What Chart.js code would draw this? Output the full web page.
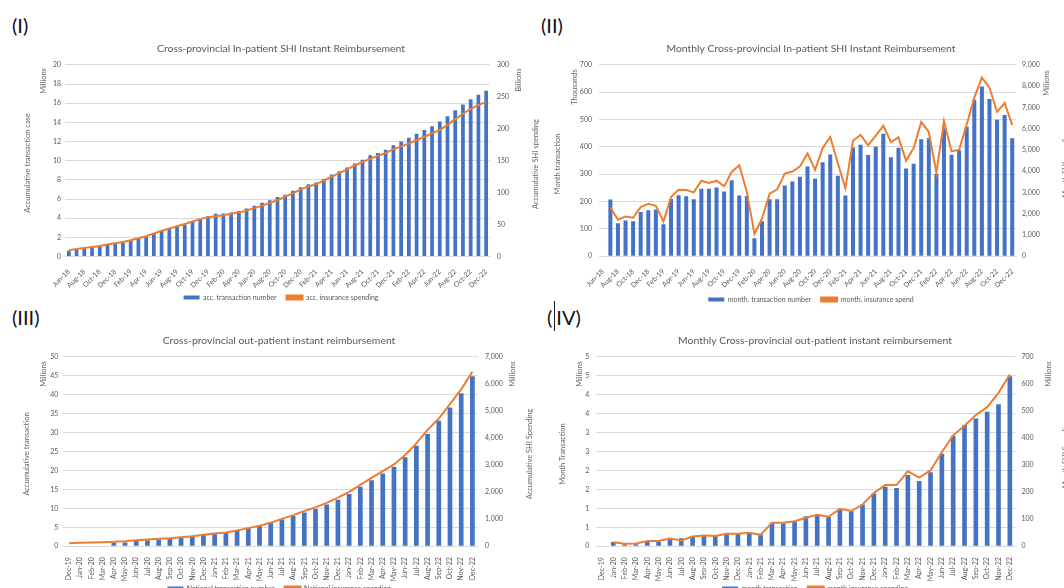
<!DOCTYPE html>
<html><head><meta charset="utf-8">
<script src="https://cdn.jsdelivr.net/npm/chart.js@4.4.0/dist/chart.umd.min.js"></script>
<style>
html,body{margin:0;padding:0;background:#fff;width:1064px;height:588px;overflow:hidden;position:relative;font-family:Lato,'Liberation Sans',sans-serif;}
.wrap{position:absolute;}
.lbl{position:absolute;font-size:20px;color:#111;line-height:1;}
.rt{position:absolute;font-size:7.5px;color:#666;white-space:nowrap;line-height:1;transform:translate(-50%,-50%) rotate(-90deg);}
</style></head><body>

<div class="lbl" style="left:12px;top:15px">(I)</div>
<div class="lbl" style="left:541px;top:15px">(II)</div>
<div class="lbl" style="left:12px;top:307px">(III)</div>
<div class="lbl" style="left:547px;top:307px">(<span style="margin-left:4px">IV)</span></div>
<div style="position:absolute;left:554px;top:301px;width:1px;height:30px;background:#222"></div>

<div class="wrap" style="left:0;top:38px"><canvas id="c1" width="530" height="273"></canvas></div>
<div class="wrap" style="left:534px;top:38px"><canvas id="c2" width="530" height="275"></canvas></div>
<div class="wrap" style="left:0;top:330px"><canvas id="c3" width="518" height="272"></canvas></div>
<div class="wrap" style="left:534px;top:330px"><canvas id="c4" width="530" height="272"></canvas></div>

<div class="rt" style="left:43.5px;top:81px">Millions</div>
<div class="rt" style="left:27.5px;top:163px">Accumulative transaction case</div>
<div class="rt" style="left:519px;top:80px">Billions</div>

<div class="rt" style="left:574.5px;top:87px">Thousands</div>
<div class="rt" style="left:558px;top:164px">Month transaction</div>
<div class="rt" style="left:536px;top:164px">Accumulative SHI spending</div>
<div class="rt" style="left:1047px;top:83px">Millions</div>
<div class="rt" style="left:1066px;top:164px">Month SHI spending</div>

<div class="rt" style="left:43.5px;top:374px">Millions</div>
<div class="rt" style="left:27px;top:454px">Accumulative transaction</div>
<div class="rt" style="left:513px;top:374px">Millions</div>
<div class="rt" style="left:530px;top:454px">Accumulative SHI Spending</div>

<div class="rt" style="left:580px;top:374px">Millions</div>
<div class="rt" style="left:563px;top:454px">Month Transaction</div>
<div class="rt" style="left:1049px;top:374px">Millions</div>
<div class="rt" style="left:1066px;top:454px">Month SHI Spending</div>

<script>
// ---------- categories ----------
const monthsInpatient = ['Jun-18','Jul-18','Aug-18','Sep-18','Oct-18','Nov-18','Dec-18',
 'Jan-19','Feb-19','Mar-19','Apr-19','May-19','Jun-19','Jul-19','Aug-19','Sep-19','Oct-19','Nov-19','Dec-19',
 'Jan-20','Feb-20','Mar-20','Apr-20','May-20','Jun-20','Jul-20','Aug-20','Sep-20','Oct-20','Nov-20','Dec-20',
 'Jan-21','Feb-21','Mar-21','Apr-21','May-21','Jun-21','Jul-21','Aug-21','Sep-21','Oct-21','Nov-21','Dec-21',
 'Jan-22','Feb-22','Mar-22','Apr-22','May-22','Jun-22','Jul-22','Aug-22','Sep-22','Oct-22','Nov-22','Dec-22'];
const monthsOutpatient = ['Dec-19',
 'Jan-20','Feb-20','Mar-20','Apr-20','May-20','Jun-20','Jul-20','Aug-20','Sep-20','Oct-20','Nov-20','Dec-20',
 'Jan-21','Feb-21','Mar-21','Apr-21','May-21','Jun-21','Jul-21','Aug-21','Sep-21','Oct-21','Nov-21','Dec-21',
 'Jan-22','Feb-22','Mar-22','Apr-22','May-22','Jun-22','Jul-22','Aug-22','Sep-22','Oct-22','Nov-22','Dec-22'];

// ---------- (I) accumulative in-patient ----------
const accTransactions = [0.6,0.75,0.85,1.0,1.1,1.3,1.4,1.55,1.7,1.85,2.1,2.4,2.65,2.9,3.1,3.35,3.6,3.95,4.2,4.45,
 4.5,4.6,4.75,5.0,5.3,5.6,5.88,6.2,6.45,6.85,7.23,7.55,7.72,8.1,8.55,8.9,9.3,9.7,10.1,10.57,
 10.8,11.15,11.6,12.0,12.4,12.8,13.2,13.6,14.1,14.65,15.27,15.86,16.4,16.87,17.3];
const accSpending = [9.8,11.7,13.5,15,16.5,18.8,20.7,22.8,25.5,28.5,31.8,36,40.2,43.8,47.3,51,54.8,58.5,61.5,63,
 64.5,66.8,69,72,75.8,79.5,84,88.5,93.8,99,105,109.5,113,119,125,130.5,136.5,142.5,148,153,
 157.5,162,168,172.5,177,182,187.5,192.8,198,206,215,223.5,231,237,242];

// ---------- (II) monthly in-patient ----------
const monthTransactions = [null,207,121,131,128,162,168,171,117,209,223,219,208,247,247,251,237,278,222,220,66,
 128,208,208,259,273,291,328,283,344,372,294,222,398,408,370,401,448,362,397,321,
 338,428,432,302,468,371,388,474,572,621,575,499,517,432];
const monthSpending = [null,2296,1714,1871,1808,2311,2469,2374,1635,2783,3129,3113,3003,3553,3443,3553,3286,3962,4277,3019,1053,
 1761,2940,3145,3890,3981,4218,4834,4060,5087,5608,4376,3191,5434,5703,5213,5671,6145,5371,5592,4487,
 5087,6319,5845,3934,6351,4929,5008,6193,7457,8404,7930,6793,7204,6167];

// ---------- (III) accumulative out-patient ----------
const nationalTransactions = [null,null,null,null,0.9,1.0,1.4,1.6,1.8,1.95,2.2,2.6,3.0,3.35,3.6,4.25,4.9,5.5,6.3,7.05,
 7.95,8.9,9.8,11.0,12.3,13.8,15.7,17.4,19.2,21.0,23.5,26.5,29.6,33.1,36.6,40.4,44.9];
const nationalSpending = [112,124,136,149,161,186,223,248,273,297,335,372,421,471,508,582,669,756,867,1010,
 1150,1301,1437,1599,1797,2007,2268,2528,2776,3023,3370,3804,4300,4720,5250,5800,6450];

// ---------- (IV) monthly out-patient ----------
const outMonthTransactions = [null,0.11,0.05,0.05,0.13,0.12,0.19,0.21,0.24,0.27,0.27,0.32,0.32,
 0.35,0.31,0.62,0.60,0.64,0.79,0.83,0.77,0.97,0.92,1.10,1.39,
 1.57,1.54,1.88,1.72,1.95,2.44,2.92,3.20,3.37,3.55,3.75,4.49];
const outMonthSpending = [null,15,9,10,19,19,28,21,36,40,38,46,46,
 50,42,87,87,92,105,116,109,138,130,154,197,
 226,226,277,254,280,348,410,445,485,514,567,635];

const GRID='#D9D9D9', TXT='#595959', BLUE='#4472C4', ORANGE='#ED7D31', FONT='Lato';
const fmt = v => Number(v).toLocaleString('en-US');

function build(id, p){
  return new Chart(document.getElementById(id), {
    data:{
      labels:p.labels,
      datasets:[
        {type:'bar',label:p.barLabel,data:p.bars,backgroundColor:BLUE,borderWidth:0,yAxisID:'y',order:2,
         categoryPercentage:1,barPercentage:p.barPct},
        {type:'line',label:p.lineLabel,data:p.line,borderColor:ORANGE,backgroundColor:ORANGE,borderWidth:2,
         pointRadius:0,tension:0,yAxisID:'y1',order:1}
      ]
    },
    options:{
      responsive:false,animation:false,devicePixelRatio:1,
      layout:{padding:{left:p.padL,right:0,top:0,bottom:0}},
      plugins:{
        title:{display:true,text:p.title,color:TXT,font:{family:FONT,size:10.4,weight:'normal'},padding:{top:4.4,bottom:10}},
        legend:{position:'bottom',labels:{color:TXT,font:{family:FONT,size:7},boxWidth:16,boxHeight:4,padding:10,
          sort:(a,b)=>a.datasetIndex-b.datasetIndex}},
        tooltip:{enabled:false}
      },
      scales:{
        x:{grid:{display:false},border:{display:true,color:GRID},
           ticks:{color:TXT,font:{family:FONT,size:7},autoSkip:false,minRotation:p.rot,maxRotation:p.rot,padding:3,
             callback:function(v,i){return (i % p.every===0)?this.getLabelForValue(v):'';}},
           afterFit:s=>{s.height=p.xh; s._computeLabelArea=function(){return undefined;};}},
        y:{position:'left',min:0,max:p.yMax,
           ticks:{stepSize:p.yStep,color:TXT,font:{family:FONT,size:7},padding:p.yPad,callback:p.yFmt||fmt},
           grid:{color:GRID,drawTicks:false},border:{display:false},
           afterFit:s=>{s.width=p.yw;}},
        y1:{position:'right',min:0,max:p.y1Max,
           ticks:{stepSize:p.y1Step,color:TXT,font:{family:FONT,size:7},padding:p.y1Pad,callback:fmt},
           grid:{display:false,drawTicks:false},border:{display:false},
           afterFit:s=>{s.width=p.y1w;}}
      }
    }
  });
}

build('c1',{labels:monthsInpatient,bars:accTransactions,line:accSpending,
  barLabel:'acc. transaction number',lineLabel:'acc. insurance spending',
  title:'Cross-provincial In-patient SHI Instant Reimbursement',
  barPct:0.48,padL:32,yw:33,y1w:40,xh:27.5,rot:45,every:2,
  yMax:20,yStep:2,yPad:4,y1Max:300,y1Step:50,y1Pad:7});

build('c2',{labels:monthsInpatient,bars:monthTransactions,line:monthSpending,
  barLabel:'month. transaction number',lineLabel:'month. insurance spend',
  title:'Monthly Cross-provincial In-patient SHI Instant Reimbursement',
  barPct:0.53,padL:24,yw:41,y1w:48,xh:29.8,rot:45,every:2,
  yMax:700,yStep:100,yPad:7,y1Max:9000,y1Step:1000,y1Pad:6});

build('c3',{labels:monthsOutpatient,bars:nationalTransactions,line:nationalSpending,
  barLabel:'National transaction number',lineLabel:'National insurance spending',
  title:'Cross-provincial out-patient instant reimbursement',
  barPct:0.42,padL:40,yw:23.4,y1w:40,xh:28.8,rot:90,every:1,
  yMax:50,yStep:5,yPad:5,y1Max:7000,y1Step:1000,y1Pad:7});

build('c4',{labels:monthsOutpatient,bars:outMonthTransactions,line:outMonthSpending,
  barLabel:'month transaction',lineLabel:'month insurance spending',
  title:'Monthly Cross-provincial out-patient instant reimbursement',
  barPct:0.41,padL:32,yw:30.3,y1w:48.5,xh:28.8,rot:90,every:1,
  yMax:5,yStep:0.5,yPad:7,yFmt:v=>Math.round(v),y1Max:700,y1Step:100,y1Pad:6});
</script>
</body></html>
